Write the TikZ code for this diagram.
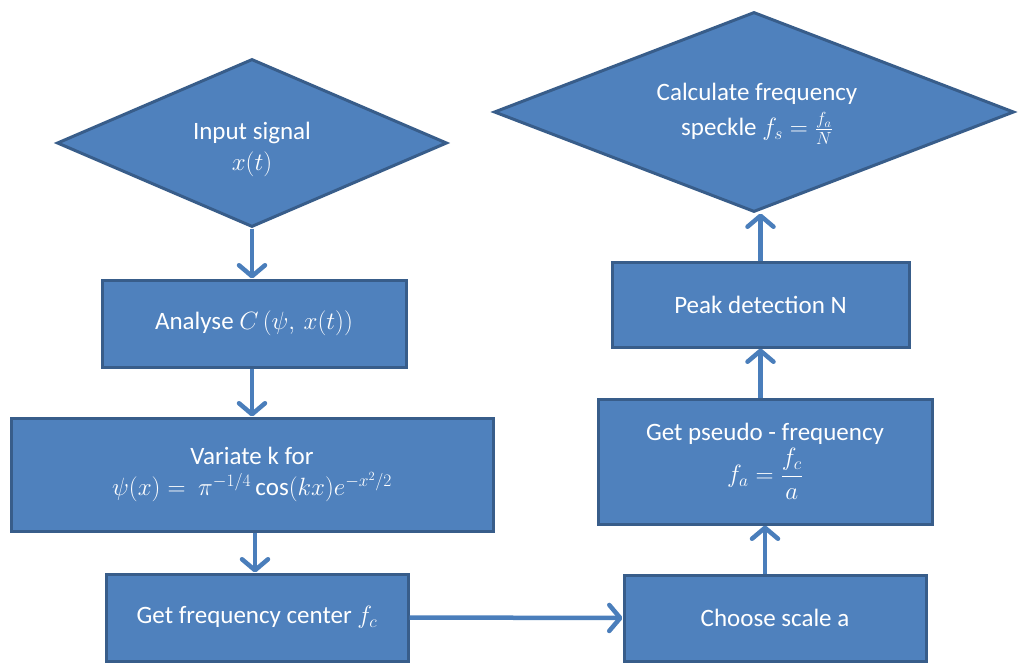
\RequirePackage{fix-cm}
\documentclass[tikz,border=0pt]{standalone}
\usepackage{amsmath}
\usepackage{fontspec}
\setmainfont{Carlito}
\usetikzlibrary{shapes.geometric,arrows.meta}
\definecolor{boxfill}{HTML}{4F81BD}
\definecolor{boxline}{HTML}{385D8A}
\definecolor{arrowc}{HTML}{4A7EBB}
\begin{document}
\begin{tikzpicture}[x=1pt,y=-1pt,
  stepbox/.style={rectangle,fill=boxfill,draw=boxline,line width=3pt,text=white,
    font=\fontsize{25}{31}\selectfont,align=center,inner sep=0pt},
  decide/.style={diamond,fill=boxfill,draw=boxline,line width=3pt,inner sep=0pt},
  txt/.style={text=white,font=\fontsize{25}{31}\selectfont,align=center,inner sep=0pt},
  flow/.style={draw=arrowc,line width=4.5pt,
    -{Straight Barb[length=11pt,width=26pt,round,line width=4.5pt]}}]
\useasboundingbox (0,0) rectangle (1019,663);
\node[decide,minimum width=390pt,minimum height=168pt] (d1) at (252,143) {};
\node[txt] (d1t) at (252,149) {Input signal\\ $x(t)$};
\node[stepbox,minimum width=304pt,minimum height=87pt] (an) at (254,323.5)
  {Analyse $C\left(\psi,\,x(t)\right)$};
\node[stepbox,minimum width=482pt,minimum height=113pt] (va) at (252,474.5)
  {Variate k for\\ $\psi(x) =\ \pi^{-1/4}\cos(kx)e^{-x^2/2}$};
\node[stepbox,minimum width=302pt,minimum height=87pt] (gf) at (257,617.5)
  {Get frequency center $f_c$};
\node[stepbox,minimum width=302pt,minimum height=86pt] (ch) at (775,618)
  {Choose scale a};
\node[stepbox,minimum width=334pt,minimum height=125pt] (ps) at (765,461.5)
  {Get pseudo - frequency\\[3pt] $f_a = \dfrac{f_c}{a}$};
\node[stepbox,minimum width=297pt,minimum height=85pt] (pk) at (760.5,304.5)
  {Peak detection N};
\node[decide,minimum width=520pt,minimum height=200pt] (d2) at (754,112) {};
\node[txt] (d2t) at (757,114) {Calculate frequency\\[4pt] speckle $f_s = \frac{f_a}{N}$};
\draw[flow] (d1.south) -- (d1.south |- an.north);
\draw[flow] (an.south -| d1.south) -- (d1.south |- va.north);
\draw[flow] ([xshift=3pt]va.south) -- ([xshift=3pt]va.south |- gf.north);
\draw[flow] (gf.east) -- (ch.west);
\draw[flow] (ps.south |- ch.north) -- (ps.south);
\draw[flow] (pk.south |- ps.north) -- (pk.south);
\draw[flow] (pk.north) -- (pk.north |- d2.south);
\end{tikzpicture}
\end{document}
